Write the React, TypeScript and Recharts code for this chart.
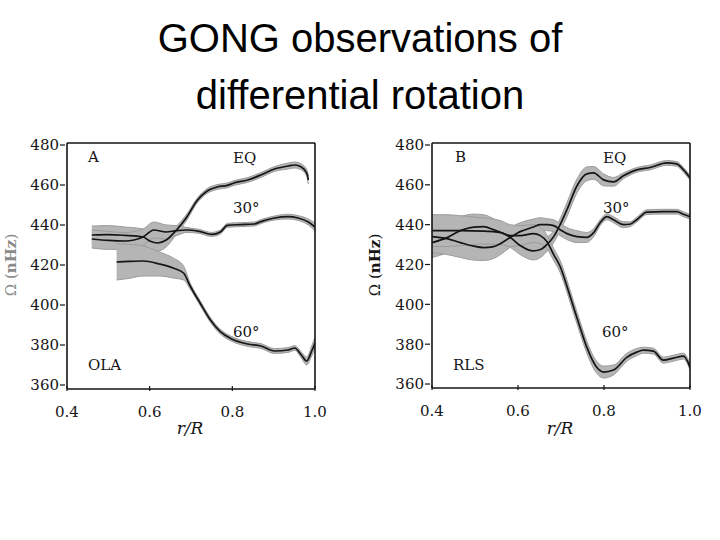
import { Area, ComposedChart, Line, XAxis, YAxis } from 'recharts';

const X_TICKS = [0.4, 0.6, 0.8, 1.0];
const Y_TICKS = [360, 380, 400, 420, 440, 460, 480];
const Y_DOMAIN = [358, 481];

// Panel A — OLA inversion
const olaEqR = [0.46, 0.5, 0.54, 0.584, 0.6, 0.62, 0.64, 0.665, 0.69, 0.714, 0.739, 0.763, 0.788, 0.804, 0.837, 0.869, 0.902, 0.935, 0.951, 0.967, 0.98, 0.984];
const olaEqOmega = [435, 435.2, 434.8, 434, 432, 431, 432.5, 437.5, 444, 452, 457, 459, 459.8, 461, 462.5, 465, 468, 469.5, 470, 469, 466, 462.5];
const olaEqErr = [4.5, 4.5, 4.2, 4, 4, 4, 3.5, 2, 1.5, 1.2, 1.2, 1.2, 1.2, 1.2, 1.2, 1.2, 1.2, 1.5, 1.5, 1.5, 1.8, 2];

const ola30R = [0.46, 0.5, 0.54, 0.584, 0.61, 0.64, 0.665, 0.69, 0.72, 0.75, 0.771, 0.788, 0.82, 0.853, 0.869, 0.902, 0.935, 0.959, 0.984, 1.0];
const ola30Omega = [433, 432.3, 432, 434, 437.5, 436.5, 437.2, 437.5, 436.8, 435.3, 436.5, 439.8, 440.2, 440.5, 441.7, 443.5, 444.2, 443.5, 441.5, 439];
const ola30Err = [4.5, 4.5, 4.2, 4, 4, 3.5, 2.5, 1.2, 1, 1, 1, 1, 1, 1, 1, 1, 1.2, 1.2, 1.5, 2];

const ola60R = [0.52, 0.55, 0.584, 0.624, 0.657, 0.682, 0.698, 0.722, 0.747, 0.771, 0.796, 0.837, 0.869, 0.902, 0.935, 0.951, 0.967, 0.98, 0.992, 1.0];
const ola60Omega = [421.5, 421.8, 422, 420.5, 418.5, 416, 409.5, 401, 392.5, 386.7, 383.3, 380.5, 379.5, 377, 377.5, 378.5, 375, 372, 377, 381];
const ola60Err = [9, 8.5, 7.5, 6, 5, 3.5, 1.5, 1.2, 1.2, 1.2, 1.2, 1.2, 1.2, 1.2, 1.2, 1.2, 1.5, 2, 2.5, 3];

// Panel B — RLS inversion
const rlsEqR = [0.4, 0.435, 0.466, 0.497, 0.52, 0.543, 0.582, 0.605, 0.636, 0.652, 0.667, 0.683, 0.698, 0.714, 0.737, 0.76, 0.776, 0.799, 0.822, 0.845, 0.876, 0.907, 0.946, 0.969, 0.985, 1.0];
const rlsEqOmega = [431, 433.5, 437, 438.8, 439, 437.5, 433.6, 429.5, 426.8, 427.5, 430, 434, 440, 447.6, 459.4, 465.5, 466, 462.5, 461.5, 464.5, 467.5, 468.7, 471, 470.5, 467.5, 463.5];
const rlsEqErr = [7.5, 7.5, 7, 6.5, 6, 5.5, 5, 4.5, 4.5, 4, 3.5, 3, 3, 3.5, 3.5, 3.5, 3.2, 3, 2.2, 1.5, 1.2, 1.2, 1.2, 1.2, 1.2, 1.2];

const rls30R = [0.4, 0.435, 0.466, 0.497, 0.52, 0.543, 0.582, 0.605, 0.636, 0.652, 0.667, 0.683, 0.698, 0.714, 0.737, 0.76, 0.776, 0.791, 0.807, 0.822, 0.845, 0.86, 0.876, 0.9, 0.938, 0.969, 0.985, 1.0];
const rls30Omega = [434, 433, 431, 429.2, 428.5, 429, 433.6, 436.5, 438.8, 440, 440, 439.5, 437.5, 435.5, 434, 433.6, 436, 441, 444, 442.5, 440, 440.2, 442.5, 446.3, 446.5, 446.5, 445.2, 444];
const rls30Err = [8, 8, 7.5, 7, 6.5, 6, 5, 4.5, 4, 3.5, 3, 3, 3, 3, 3, 2.5, 2, 1.5, 1.5, 1.5, 1.5, 1.2, 1.2, 1.2, 1.2, 1.2, 1.2, 1.2];

const rls60R = [0.4, 0.435, 0.466, 0.52, 0.56, 0.582, 0.605, 0.636, 0.652, 0.667, 0.683, 0.698, 0.714, 0.729, 0.745, 0.76, 0.783, 0.799, 0.822, 0.853, 0.876, 0.892, 0.915, 0.938, 0.962, 0.985, 1.0];
const rls60Omega = [437, 437, 437, 436.8, 436, 434.5, 434.5, 435.5, 434.5, 431.5, 425, 419, 409, 398.7, 388, 378.5, 368.4, 366, 367, 373.4, 376, 377, 376.5, 372, 373, 374, 368.5];
const rls60Err = [8, 8, 7.5, 6.5, 6, 5.5, 5, 4.5, 4, 3.5, 3, 3, 3, 3, 3, 3, 3, 3, 2.5, 2, 1.8, 1.5, 1.5, 1.5, 1.5, 1.5, 1.5];

const INK = '#151515';
const BAND = '#b5b5b5';
const SERIF = '"DejaVu Serif", "Liberation Serif", serif';

type Row = { r: number; omega: number; band: [number, number] };

function toRows(r: number[], omega: number[], err: number[]): Row[] {
  return r.map((x, i) => ({ r: x, omega: omega[i], band: [omega[i] - err[i], omega[i] + err[i]] }));
}

const olaSeries = [
  toRows(olaEqR, olaEqOmega, olaEqErr),
  toRows(ola30R, ola30Omega, ola30Err),
  toRows(ola60R, ola60Omega, ola60Err),
];
const rlsSeries = [
  toRows(rlsEqR, rlsEqOmega, rlsEqErr),
  toRows(rls30R, rls30Omega, rls30Err),
  toRows(rls60R, rls60Omega, rls60Err),
];

const fmtX = (v: number) => v.toFixed(1);

// ticks are drawn by hand so the box can have inward marks on three sides
function BottomTick({ x, y, payload }: any) {
  return (
    <g>
      <line x1={x} x2={x} y1={y} y2={y - 5} stroke={INK} strokeWidth={1.2} />
      <text x={x} y={y + 26} textAnchor="middle" fontFamily={SERIF} fontSize={15} fill={INK}>
        {fmtX(payload.value)}
      </text>
    </g>
  );
}

function TopTick({ x, y }: any) {
  return <line x1={x} x2={x} y1={y} y2={y + 5} stroke={INK} strokeWidth={1.2} />;
}

function LeftTick({ x, y, payload }: any) {
  return (
    <g>
      <line x1={x} x2={x - 5} y1={y} y2={y} stroke={INK} strokeWidth={1.2} />
      <text x={x - 6} y={y} dy="0.36em" textAnchor="end" fontFamily={SERIF} fontSize={15} fill={INK}>
        {payload.value}
      </text>
    </g>
  );
}

function RightTick({ x, y }: any) {
  return <line x1={x} x2={x - 5} y1={y} y2={y} stroke={INK} strokeWidth={1.2} />;
}

function Panel({ series, width, margin }: { series: Row[][]; width: number; margin: any }) {
  const axisLine = { stroke: INK, strokeWidth: 1.6 };
  return (
    <ComposedChart width={width} height={450} margin={margin}>
      <XAxis xAxisId="b" dataKey="r" type="number" domain={[0.4, 1.0]} ticks={X_TICKS} allowDataOverflow
        height={30} tickSize={0} tickLine={false} axisLine={axisLine} tick={<BottomTick />} interval={0} />
      <XAxis xAxisId="t" orientation="top" dataKey="r" type="number" domain={[0.4, 1.0]} ticks={X_TICKS}
        height={1} tickSize={0} tickLine={false} axisLine={axisLine} tick={<TopTick />} interval={0} />
      <YAxis yAxisId="l" type="number" domain={Y_DOMAIN} ticks={Y_TICKS} allowDataOverflow
        width={40} tickSize={0} tickLine={false} axisLine={axisLine} tick={<LeftTick />} interval={0} />
      <YAxis yAxisId="r" orientation="right" type="number" domain={Y_DOMAIN} ticks={Y_TICKS}
        width={1} tickSize={0} tickLine={false} axisLine={axisLine} tick={<RightTick />} interval={0} />
      {series.map((rows, i) => (
        <Area key={`band${i}`} xAxisId="b" yAxisId="l" data={rows} dataKey="band" type="monotone"
          fill={BAND} fillOpacity={1} stroke="#9c9c9c" strokeWidth={1} isAnimationActive={false} />
      ))}
      {series.map((rows, i) => (
        <Line key={`line${i}`} xAxisId="b" yAxisId="l" data={rows} dataKey="omega" type="monotone"
          stroke={INK} strokeWidth={1.7} dot={false} isAnimationActive={false} />
      ))}
    </ComposedChart>
  );
}

const labelStyle = { fontFamily: SERIF, fontSize: 15, fill: INK };

export default function App() {
  return (
    <div style={{ position: 'fixed', left: 0, top: 0, width: 720, height: 540, background: '#fff' }}>
      <div style={{ position: 'absolute', left: 0, top: 0 }}>
        <Panel series={olaSeries} width={340} margin={{ top: 142, right: 24, bottom: 31, left: 27 }} />
      </div>
      <div style={{ position: 'absolute', left: 360, top: 0 }}>
        <Panel series={rlsSeries} width={360} margin={{ top: 142, right: 29, bottom: 32, left: 32 }} />
      </div>
      <svg width={720} height={540} style={{ position: 'absolute', left: 0, top: 0, pointerEvents: 'none' }}>
        <text x={360} y={52} textAnchor="middle" fontFamily='"Liberation Sans", Arial, sans-serif' fontSize={40} fill="#000">
          GONG observations of
        </text>
        <text x={360} y={109} textAnchor="middle" fontFamily='"Liberation Sans", Arial, sans-serif' fontSize={40} fill="#000">
          differential rotation
        </text>

        <text x={88} y={162} {...labelStyle}>A</text>
        <text x={233} y={163} {...labelStyle}>EQ</text>
        <text x={233} y={213} {...labelStyle}>30°</text>
        <text x={233} y={337} {...labelStyle}>60°</text>
        <text x={88} y={370} {...labelStyle}>OLA</text>

        <text x={455} y={162} {...labelStyle}>B</text>
        <text x={603} y={163} {...labelStyle}>EQ</text>
        <text x={603} y={213} {...labelStyle}>30°</text>
        <text x={602} y={337} {...labelStyle}>60°</text>
        <text x={453} y={370} {...labelStyle}>RLS</text>

        <text x={190} y={434} textAnchor="middle" fontFamily={SERIF} fontStyle="italic" fontSize={17} fill={INK}>r/R</text>
        <text x={560} y={434} textAnchor="middle" fontFamily={SERIF} fontStyle="italic" fontSize={17} fill={INK}>r/R</text>

        <text transform="translate(16,265) rotate(-90)" textAnchor="middle" fontFamily={SERIF} fontSize={15} fill="#8a8a8a">
          Ω (<tspan fontWeight="bold">nHz</tspan>)
        </text>
        <text transform="translate(380,265) rotate(-90)" textAnchor="middle" fontFamily={SERIF} fontSize={15} fill={INK}>
          Ω (<tspan fontWeight="bold">nHz</tspan>)
        </text>
      </svg>
    </div>
  );
}
